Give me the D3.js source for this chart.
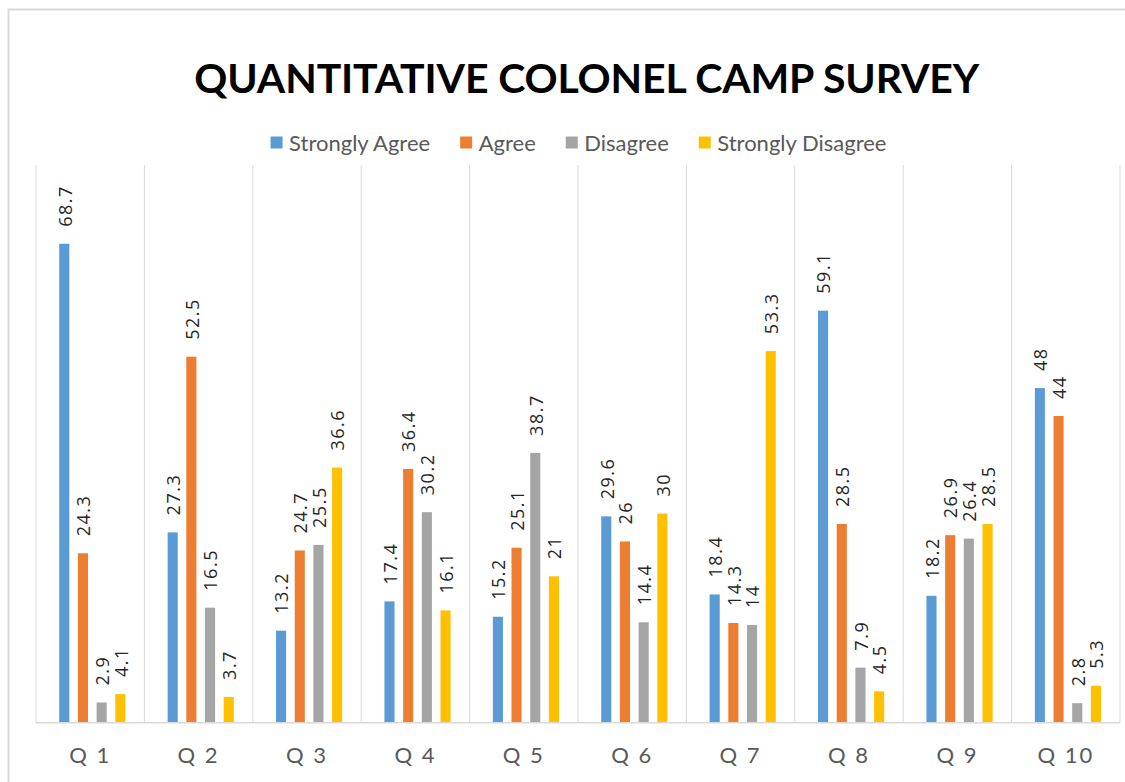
<!DOCTYPE html>
<html>
<head>
<meta charset="utf-8">
<script src="https://cdn.jsdelivr.net/npm/d3@7"></script>
<style>
  html, body { margin: 0; padding: 0; background: #fff; }
  svg { display: block; }
</style>
</head>
<body>
<div id="chart"></div>
<script>
const categories = ['Q 1', 'Q 2', 'Q 3', 'Q 4', 'Q 5', 'Q 6', 'Q 7', 'Q 8', 'Q 9', 'Q 10'];
const seriesNames = ['Strongly Agree', 'Agree', 'Disagree', 'Strongly Disagree'];
const stronglyAgree = [68.7, 27.3, 13.2, 17.4, 15.2, 29.6, 18.4, 59.1, 18.2, 48];
const agree = [24.3, 52.5, 24.7, 36.4, 25.1, 26, 14.3, 28.5, 26.9, 44];
const disagree = [2.9, 16.5, 25.5, 30.2, 38.7, 14.4, 14, 7.9, 26.4, 2.8];
const stronglyDisagree = [4.1, 3.7, 36.6, 16.1, 21, 30, 53.3, 4.5, 28.5, 5.3];
const colors = ['#5B9BD5', '#ED7D31', '#A5A5A5', '#FFC000'];

const seriesValues = [stronglyAgree, agree, disagree, stronglyDisagree];

const width = 1125;
const height = 782;
const plot = { left: 36, right: 1120, top: 165, bottom: 722.7 };

const svg = d3.select('#chart')
  .append('svg')
  .attr('width', width)
  .attr('height', height);

// chart frame (cut off on right and bottom like the screenshot)
svg.append('rect')
  .attr('x', 8.5)
  .attr('y', 9.5)
  .attr('width', 1200)
  .attr('height', 900)
  .attr('fill', 'none')
  .attr('stroke', '#D9D9D9')
  .attr('stroke-width', 2);

// title
svg.append('text')
  .attr('x', 586.8)
  .attr('y', 93)
  .attr('text-anchor', 'middle')
  .attr('textLength', 785)
  .attr('lengthAdjust', 'spacing')
  .style('font-family', 'Lato, "Open Sans", sans-serif')
  .style('font-weight', 'bold')
  .style('font-size', '41px')
  .style('fill', '#000')
  .text('QUANTITATIVE COLONEL CAMP SURVEY');

// legend
const legend = svg.append('g').attr('class', 'legend');
const legendItems = legend.selectAll('g')
  .data(seriesNames)
  .enter()
  .append('g');

legendItems.append('rect')
  .attr('width', 12)
  .attr('height', 12)
  .attr('y', 136.5)
  .attr('fill', (d, i) => colors[i]);

legendItems.append('text')
  .attr('x', 18.5)
  .attr('y', 150.5)
  .style('font-family', 'Lato, "Open Sans", sans-serif')
  .style('font-size', '22px')
  .style('fill', '#595959')
  .text(d => d);

let lx = 0;
const itemOffsets = [];
legendItems.each(function(d, i) {
  const w = 18.5 + d3.select(this).select('text').node().getComputedTextLength();
  itemOffsets.push(lx);
  lx += w + 30;
});
const legendWidth = lx - 30;
const legendStart = 578.5 - legendWidth / 2;
legendItems.attr('transform', (d, i) => `translate(${legendStart + itemOffsets[i]},0)`);

// scales
const x0 = d3.scaleBand()
  .domain(categories)
  .range([plot.left, plot.right]);

const x1 = d3.scaleBand()
  .domain(seriesNames)
  .range([0, x0.bandwidth()])
  .paddingInner(0.46)
  .paddingOuter(1.13)
  .align(0.55);

const y = d3.scaleLinear()
  .domain([0, 80])
  .range([plot.bottom, plot.top]);

// vertical separators between categories
const boundaries = categories.map(c => x0(c)).concat([plot.right]);
svg.append('g')
  .selectAll('line')
  .data(boundaries)
  .enter()
  .append('line')
  .attr('x1', d => d)
  .attr('x2', d => d)
  .attr('y1', plot.top)
  .attr('y2', plot.bottom)
  .attr('stroke', '#D9D9D9')
  .attr('stroke-width', 1);

// bars
const rows = [];
categories.forEach((c, ci) => {
  seriesNames.forEach((s, si) => {
    rows.push({ cat: c, series: s, si: si, value: seriesValues[si][ci] });
  });
});

svg.append('g')
  .selectAll('rect')
  .data(rows)
  .enter()
  .append('rect')
  .attr('x', d => x0(d.cat) + x1(d.series))
  .attr('y', d => y(d.value))
  .attr('width', x1.bandwidth())
  .attr('height', d => plot.bottom - y(d.value))
  .attr('fill', d => colors[d.si]);

// value labels, rotated
svg.append('g')
  .selectAll('text')
  .data(rows)
  .enter()
  .append('text')
  .attr('transform', d => {
    const cx = x0(d.cat) + x1(d.series) + x1.bandwidth() / 2 + 1;
    const cy = y(d.value) - 17;
    return `translate(${cx},${cy}) rotate(-90)`;
  })
  .attr('dy', '0.35em')
  .attr('text-anchor', 'start')
  .style('font-family', '"Open Sans", sans-serif')
  .style('font-size', '18px')
  .style('letter-spacing', '1.5px')
  .style('fill', '#262626')
  .text(d => d.value);

// x axis baseline
svg.append('line')
  .attr('x1', plot.left)
  .attr('x2', plot.right)
  .attr('y1', plot.bottom)
  .attr('y2', plot.bottom)
  .attr('stroke', '#D9D9D9')
  .attr('stroke-width', 1.5);

// category labels
const xAxis = svg.append('g')
  .attr('transform', `translate(0,${plot.bottom})`)
  .call(d3.axisBottom(x0).tickSize(0).tickPadding(0));
xAxis.select('.domain').remove();
xAxis.selectAll('text')
  .attr('y', 40.5)
  .attr('dy', 0)
  .style('font-family', 'Lato, "Open Sans", sans-serif')
  .style('font-size', '22px')
  .style('letter-spacing', '2px')
  .style('fill', '#595959');
</script>
</body>
</html>
